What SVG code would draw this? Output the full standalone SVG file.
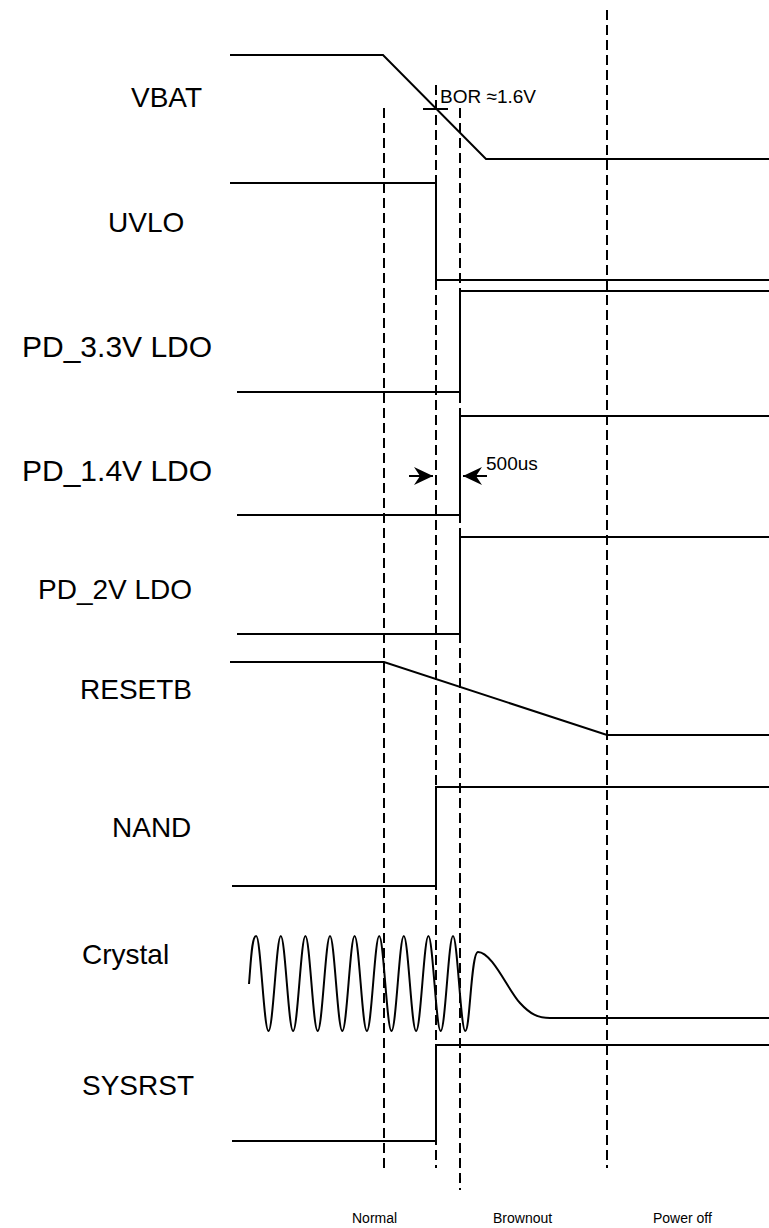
<svg xmlns="http://www.w3.org/2000/svg" width="769" height="1228" viewBox="0 0 769 1228">
<style>
.bg{fill:#ffffff}
.lbl{font-family:"Liberation Sans",Arial,sans-serif;font-size:28px;fill:#000}
.big{font-size:30px}
.sm{font-family:"Liberation Sans",Arial,sans-serif;font-size:19px;fill:#000}
.ph{font-family:"Liberation Sans",Arial,sans-serif;font-size:14px;fill:#000}
.w{fill:none;stroke:#000;stroke-width:2}
.d{fill:none;stroke:#000;stroke-width:2;stroke-dasharray:10,5}
</style>
<defs>
<marker id="ah" viewBox="0 0 20 20" refX="19" refY="10" markerWidth="20" markerHeight="20" markerUnits="userSpaceOnUse" orient="auto">
<path d="M0,1 L19,10 L0,19 L6,10 Z" fill="#000"/>
</marker>
</defs>
<rect class="bg" x="0" y="0" width="769" height="1228"/>
<g id="markers">
<line class="d" x1="384" y1="108" x2="384" y2="1168"/>
<line class="d" x1="436" y1="85" x2="436" y2="1168"/>
<line class="d" x1="460" y1="108" x2="460" y2="1190"/>
<line class="d" x1="607" y1="10" x2="607" y2="1168"/>
</g>
<g id="vbat">
<text class="lbl" x="131" y="107">VBAT</text>
<path class="w" d="M230,55 H383 L486,159 H769"/>
<line class="w" x1="423" y1="109" x2="448" y2="109"/>
<text class="sm" x="440" y="103">BOR ≈1.6V</text>
</g>
<g id="uvlo">
<text class="lbl" x="108" y="232">UVLO</text>
<path class="w" d="M230,183 H436 V280 H769"/>
</g>
<g id="pd33">
<text class="lbl big" x="22" y="357">PD_3.3V LDO</text>
<path class="w" d="M237,392 H460 V291 H769"/>
</g>
<g id="pd14">
<text class="lbl big" x="22" y="481">PD_1.4V LDO</text>
<path class="w" d="M237,515 H460 V416 H769"/>
<text class="sm" x="486" y="470">500us</text>
</g>
<g id="pd2">
<text class="lbl" x="38" y="599">PD_2V LDO</text>
<path class="w" d="M237,634 H460 V537 H769"/>
</g>
<g id="resetb">
<text class="lbl" x="80" y="699">RESETB</text>
<path class="w" d="M230,662 H384 L607,735 H769"/>
</g>
<g id="nand">
<text class="lbl" x="112" y="837">NAND</text>
<path class="w" d="M232,886 H436 V787 H769"/>
</g>
<g id="crystal">
<text class="lbl" x="82" y="964">Crystal</text>
<path class="w" d="M249,984 C251,960 251.8,936 256.2,936 S263.9,1031 268.5,1031 S276.4,936 280.8,936 S288.5,1031 293.1,1031 S301,936 305.4,936 S313.1,1031 317.7,1031 S325.6,936 330,936 S337.7,1031 342.3,1031 S350.2,936 354.6,936 S362.3,1031 366.9,1031 S374.8,936 379.2,936 S386.9,1031 391.5,1031 S399.4,936 403.8,936 S411.5,1031 416.1,1031 S424,936 428.4,936 S436.1,1031 440.7,1031 S448.6,936 453,936 S460.7,1031 465.3,1031 C470,1031 471,952 478,952 C492,952 508,990 520,1003 C530,1014 538,1018 550,1018 H769"/>
</g>
<g id="sysrst">
<text class="lbl" x="82" y="1095">SYSRST</text>
<path class="w" d="M232,1141 H436 V1045 H769"/>
</g>
<g id="connectors">
<line class="w" x1="409" y1="476" x2="433" y2="476" marker-end="url(#ah)"/>
<line class="w" x1="487" y1="476" x2="463" y2="476" marker-end="url(#ah)"/>
</g>
<g id="phases">
<text class="ph" x="352" y="1223">Normal</text>
<text class="ph" x="493" y="1223">Brownout</text>
<text class="ph" x="653" y="1223">Power off</text>
</g>
</svg>
